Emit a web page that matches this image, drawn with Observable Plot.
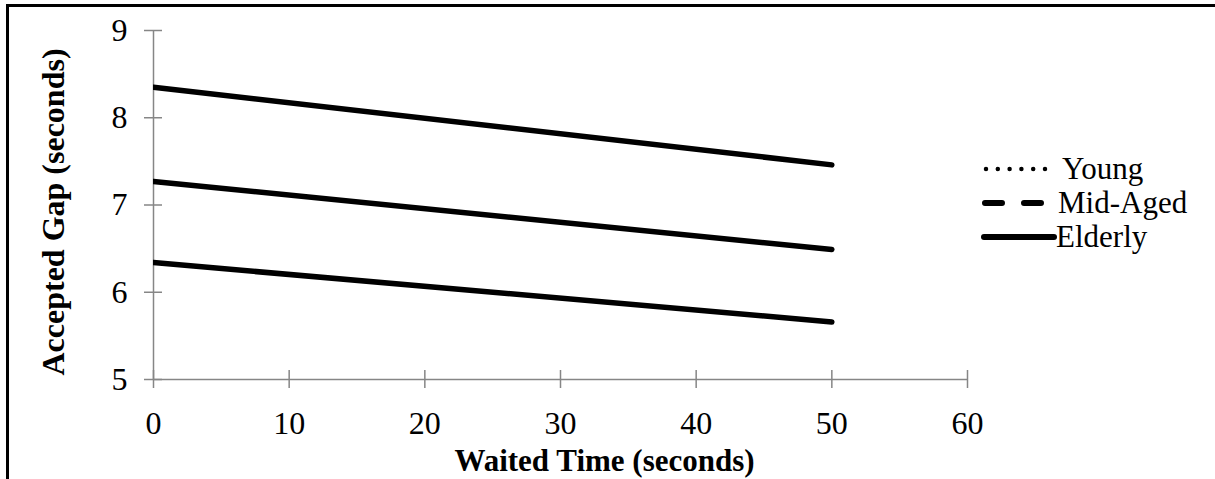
<!DOCTYPE html>
<html>
<head>
<meta charset="utf-8">
<script src="https://cdn.jsdelivr.net/npm/d3@7"></script>
<script src="https://cdn.jsdelivr.net/npm/@observablehq/plot@0.6"></script>
<style>
  html, body { margin: 0; padding: 0; background: #fff; }
  #wrap { position: relative; width: 1215px; height: 479px; overflow: hidden; font-family: "Liberation Serif", "Times New Roman", serif; }
  #border { position: absolute; left: 6px; top: 4px; right: -10px; bottom: -10px; border-top: 3px solid #000; border-left: 3px solid #000; pointer-events: none; }
  #legend { position: absolute; left: 0; top: 0; }
</style>
</head>
<body>
<div id="wrap"></div>
<script>
// ---- data ----
const groups = ["Young", "Mid-Aged", "Elderly"];
const waitedTime = [0, 50];
const youngGap = [6.34, 5.66];
const midAgedGap = [7.27, 6.49];
const elderlyGap = [8.35, 7.46];
const xTicks = [0, 10, 20, 30, 40, 50, 60];
const yTicks = [5, 6, 7, 8, 9];
const legendStyle = ["dotted", "dashed", "solid"];

const seriesValues = [youngGap, midAgedGap, elderlyGap];
const rows = [];
groups.forEach((g, i) => waitedTime.forEach((t, j) => rows.push({group: g, t, gap: seriesValues[i][j]})));

const axisGray = "#868686";
const serif = "'Liberation Serif', 'Times New Roman', serif";
const plot = Plot.plot({
  width: 1215,
  height: 479,
  marginLeft: 153,
  marginRight: 248,
  marginTop: 30,
  marginBottom: 100,
  style: {fontFamily: serif, fontSize: "32px", color: "#000", background: "transparent"},
  x: {domain: [0, 60], ticks: xTicks},
  y: {domain: [5, 9], ticks: yTicks},
  marks: [
    Plot.ruleX([0], {y1: 5, y2: 9, stroke: axisGray, strokeWidth: 1.5}),
    Plot.ruleY([5], {x1: 0, x2: 60, stroke: axisGray, strokeWidth: 1.5}),
    Plot.ruleY(yTicks, {y: d => d, x1: 0, x2: 0, insetLeft: -9, insetRight: -9, stroke: axisGray, strokeWidth: 1.5}),
    Plot.ruleX(xTicks, {x: d => d, y1: 5, y2: 5, insetTop: -9, insetBottom: -9, stroke: axisGray, strokeWidth: 1.5}),
    Plot.axisY(yTicks, {tickSize: 0, tickPadding: 26, fontSize: 32, tickFormat: "d", label: null}),
    Plot.axisX(xTicks, {tickSize: 0, tickPadding: 32, fontSize: 32, tickFormat: "d", label: null}),
    Plot.line(rows, {x: "t", y: "gap", z: "group", stroke: "#000", strokeWidth: 5.5, strokeLinecap: "round", clip: true}),
    Plot.text(["Waited Time (seconds)"], {frameAnchor: "bottom", dx: 44, dy: 91, fontWeight: "bold", fontSize: 31, lineAnchor: "bottom"}),
    Plot.text(["Accepted Gap (seconds)"], {frameAnchor: "left", textAnchor: "middle", rotate: -90, dx: -90, dy: 7, fontWeight: "bold", fontSize: 32, lineAnchor: "bottom"})
  ]
});

const wrap = document.getElementById("wrap");
wrap.appendChild(plot);
const border = document.createElement("div");
border.id = "border";
wrap.appendChild(border);

// legend
const ns = "http://www.w3.org/2000/svg";
const leg = document.createElementNS(ns, "svg");
leg.setAttribute("id", "legend");
leg.setAttribute("width", 1215);
leg.setAttribute("height", 479);
const legY = [169, 203, 237];
const legX1 = [986, 985, 984];
const legX2 = [1045, 1046, 1054];
const legTextX = [1062, 1058, 1056];
groups.forEach((g, i) => {
  const ln = document.createElementNS(ns, "line");
  ln.setAttribute("x1", legX1[i]);
  ln.setAttribute("x2", legX2[i]);
  ln.setAttribute("y1", legY[i]);
  ln.setAttribute("y2", legY[i]);
  ln.setAttribute("stroke", "#000");
  ln.setAttribute("stroke-width", legendStyle[i] === "dotted" ? 4.5 : 6);
  ln.setAttribute("stroke-linecap", "round");
  if (legendStyle[i] === "dotted") ln.setAttribute("stroke-dasharray", "0 11.8");
  if (legendStyle[i] === "dashed") ln.setAttribute("stroke-dasharray", "17 22");
  leg.appendChild(ln);
  const tx = document.createElementNS(ns, "text");
  tx.setAttribute("x", legTextX[i]);
  tx.setAttribute("y", legY[i] + 10);
  tx.setAttribute("font-family", serif);
  tx.setAttribute("font-size", "31");
  tx.textContent = g;
  leg.appendChild(tx);
});
wrap.appendChild(leg);
</script>
</body>
</html>
